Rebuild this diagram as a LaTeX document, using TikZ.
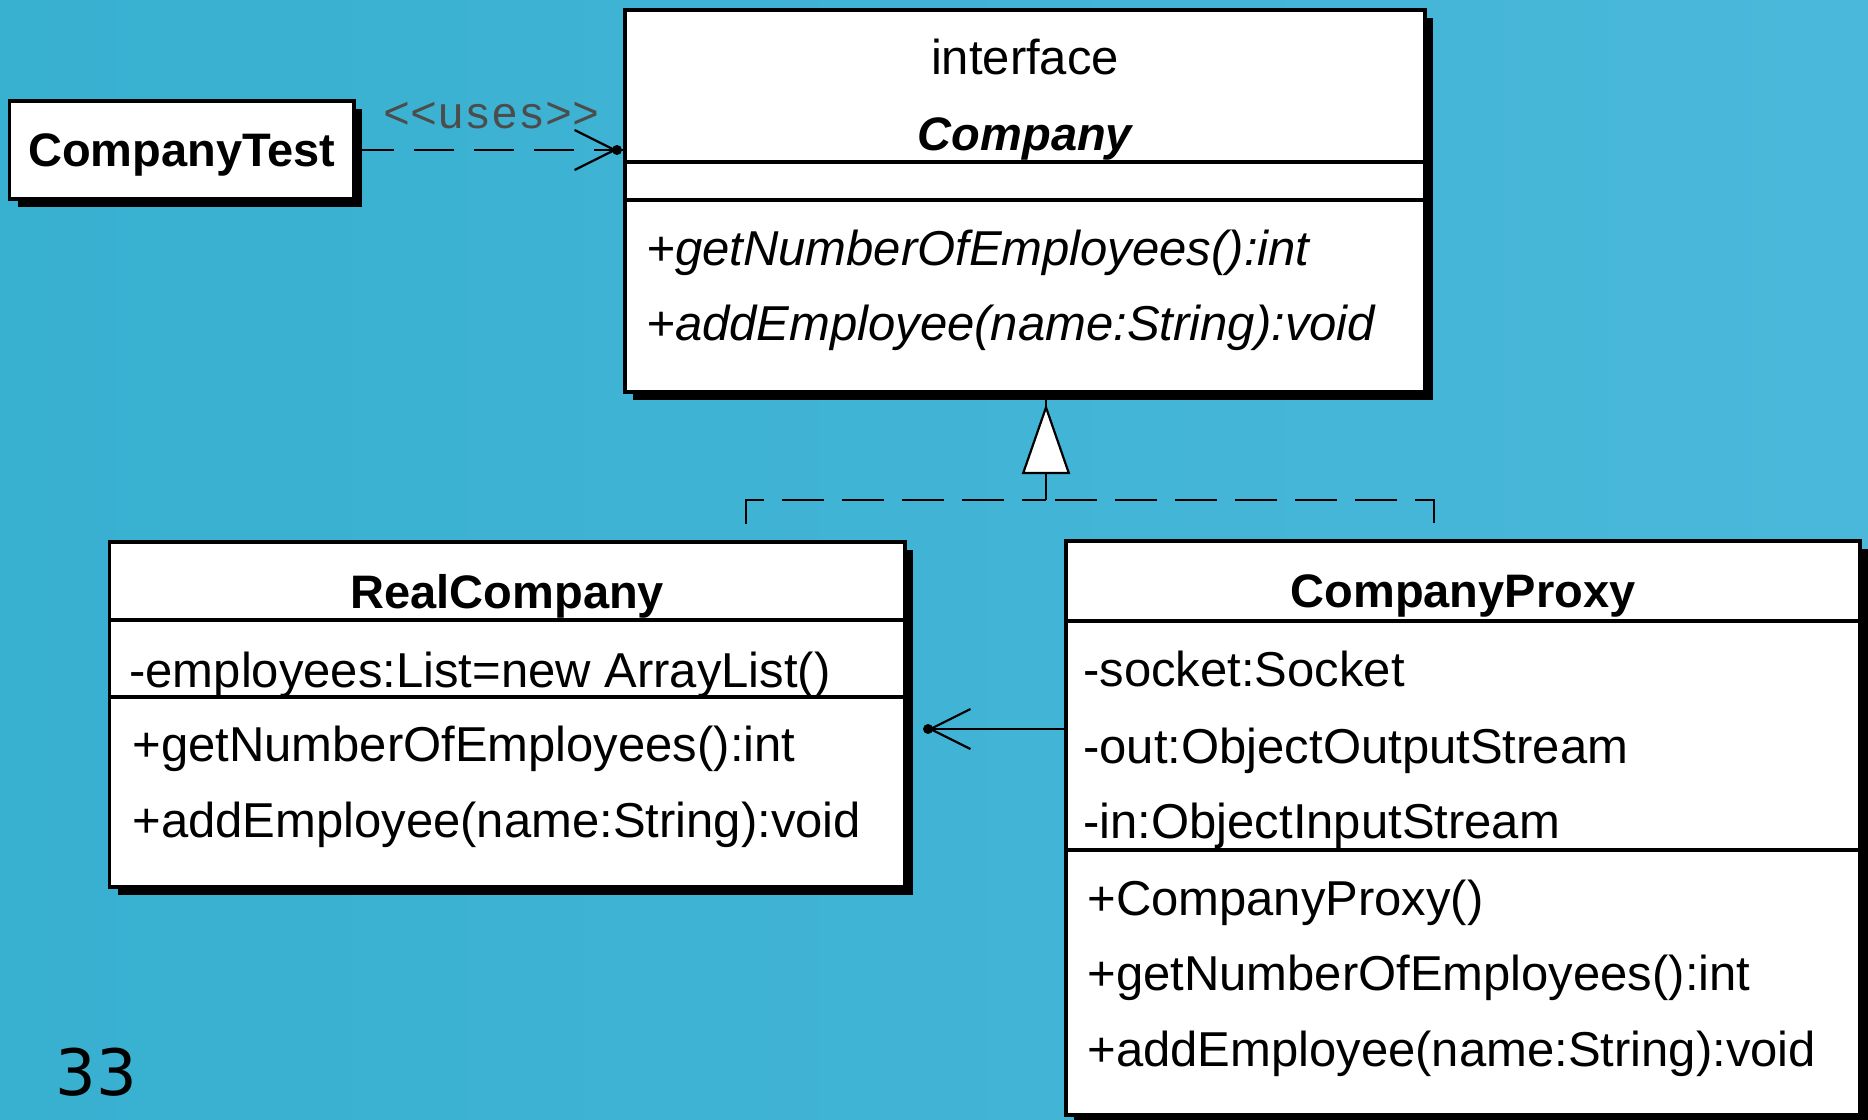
\documentclass[tikz,border=0pt]{standalone}
\usepackage{fontspec}
\setmainfont{Liberation Sans}
\setmonofont{Liberation Mono}
\newfontfamily\pagenumfont{DejaVu Sans}
\usetikzlibrary{arrows.meta,shadows,calc}

\definecolor{slideblueA}{RGB}{56,176,208}
\definecolor{slideblueB}{RGB}{74,184,218}

\begin{document}
\begin{tikzpicture}[x=0.5pt,y=-0.5pt,
  classbox/.style={draw=black, fill=white, line width=1.6pt, inner sep=0pt, outer sep=0pt,
    general shadow={fill=black, shadow xshift=4pt, shadow yshift=-4pt}},
  divider/.style={line width=1.6pt},
  member/.style={anchor=base west, inner sep=0pt, font=\fontsize{24.5pt}{29pt}\selectfont},
  abstractmember/.style={anchor=base west, inner sep=0pt, font=\fontsize{24.5pt}{29pt}\selectfont\itshape},
  classname/.style={anchor=base, inner sep=0pt, font=\fontsize{23.5pt}{28pt}\selectfont\bfseries},
  keyword/.style={anchor=base, inner sep=0pt, font=\fontsize{24.5pt}{29pt}\selectfont},
  stereotype/.style={anchor=base, inner sep=0pt, text=black!70, font=\ttfamily\fontsize{22.5pt}{27pt}\selectfont},
  depline/.style={line width=1.1pt, dash pattern=on 20pt off 10pt,
    -{Straight Barb[length=20pt, width=20pt]}},
  assocline/.style={line width=1.1pt, -{Straight Barb[length=20pt, width=20pt]}},
  realize/.style={line width=1.1pt, dash pattern=on 21pt off 9pt},
  tipdot/.style={circle, fill=black, inner sep=0pt, minimum size=5pt}
]
% slide background
\shade[left color=slideblueA, right color=slideblueB] (0,0) rectangle (1868,1119);
\useasboundingbox (0,0) rectangle (1868,1119);

% ---- class boxes ----
\node[classbox, minimum width=172.25pt, minimum height=49pt] (test) at (181.75,150) {};
\node[classbox, minimum width=400pt, minimum height=191pt] (company) at (1025,201) {};
\node[classbox, minimum width=397.7pt, minimum height=172.5pt] (real) at (507.3,714.5) {};
\node[classbox, minimum width=397pt, minimum height=287pt] (proxy) at (1463,828) {};

% compartment separators
\draw[divider] (company.west |- 0,162) -- (company.east |- 0,162);
\draw[divider] (company.west |- 0,200) -- (company.east |- 0,200);
\draw[divider] (real.west |- 0,620) -- (real.east |- 0,620);
\draw[divider] (real.west |- 0,697) -- (real.east |- 0,697);
\draw[divider] (proxy.west |- 0,621) -- (proxy.east |- 0,621);
\draw[divider] (proxy.west |- 0,850) -- (proxy.east |- 0,850);

% ---- texts ----
\node[classname] (testName) at (181.75,166) {CompanyTest};

\node[keyword] (ifaceKw) at (1025,74) {interface};
\node[classname, font=\fontsize{23.5pt}{28pt}\selectfont\bfseries\itshape] (ifaceName) at (1025,150) {Company};
\node[abstractmember] (cm1) at (646,265) {+getNumberOfEmployees():int};
\node[abstractmember] (cm2) at (646,340) {+addEmployee(name:String):void};

\node[classname] (realName) at (507.3,608) {RealCompany};
\node[member] (ra1) at (129,687) {-employees:List=new ArrayList()};
\node[member] (rm1) at (132,761) {+getNumberOfEmployees():int};
\node[member] (rm2) at (132,837) {+addEmployee(name:String):void};

\node[classname] (proxyName) at (1463,607) {CompanyProxy};
\node[member] (pa1) at (1083,686) {-socket:Socket};
\node[member] (pa2) at (1083,763) {-out:ObjectOutputStream};
\node[member] (pa3) at (1083,838) {-in:ObjectInputStream};
\node[member] (pm1) at (1087,915) {+CompanyProxy()};
\node[member] (pm2) at (1087,990) {+getNumberOfEmployees():int};
\node[member] (pm3) at (1087,1066) {+addEmployee(name:String):void};

% ---- dependency CompanyTest -> Company ----
\coordinate (usesTip) at ($(company.west |- test.east)+(-8,0)$);
\draw[depline] (test.east) -- (usesTip);
\draw[line width=1.1pt] (usesTip) -- (company.west |- usesTip);
\node[tipdot] (usesDot) at (usesTip) {};
\node[stereotype] (usesLabel) at (492,128) {<{}<uses>{}>};

% ---- association CompanyProxy -> RealCompany ----
\coordinate (assocTip) at (928,729);
\draw[assocline] (proxy.west |- assocTip) -- (assocTip);
\node[tipdot] (assocDot) at (assocTip) {};

% ---- realization of the interface ----
\coordinate (bus) at (1046,500);
\coordinate (realTop) at ($(real.north west)!0.8!(real.north east)$);
\coordinate (proxyTop) at ($(proxy.north west)!0.4635!(proxy.north east)$);
\draw[realize, dash phase=21pt] (realTop) |- (bus);
\draw[realize, dash phase=21pt] (proxyTop) |- (bus);
\draw[realize, -{Triangle[length=35pt, width=24pt, fill=white]}, shorten >=6pt]
  (bus) -- (bus |- company.south);
\draw[line width=1.1pt] (bus |- company.south) -- ++(0,14);

% slide number
\node[anchor=base west, inner sep=0pt, font=\pagenumfont\fontsize{32pt}{38pt}\selectfont] (slideNum) at (55,1095) {33};
\end{tikzpicture}
\end{document}
